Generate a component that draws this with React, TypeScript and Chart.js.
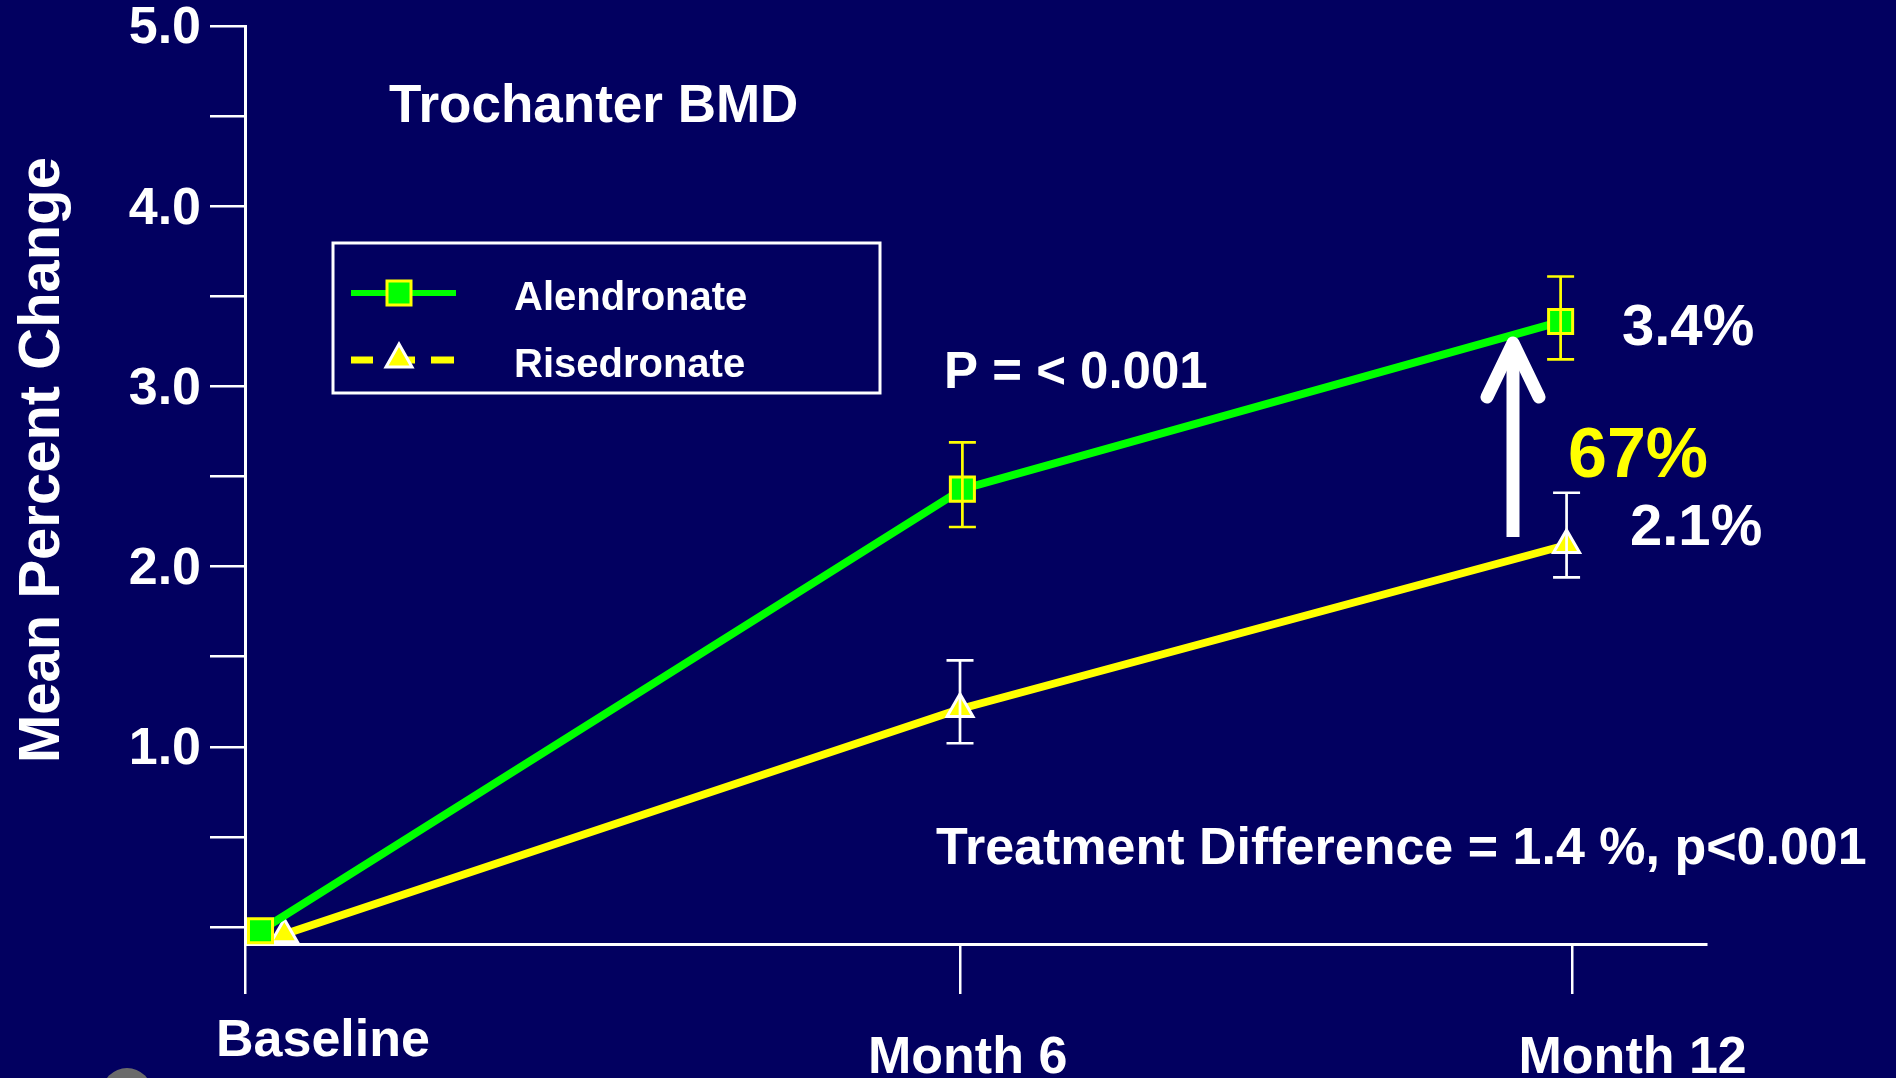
import React, { useEffect, useRef } from 'react';
import { Chart, registerables } from 'chart.js';

Chart.register(...registerables);

const FONT = "'Liberation Sans', Arial, Helvetica, sans-serif";
const BG = '#020060';
const GREEN = '#00FF00';
const YELLOW = '#FFFF00';
const WHITE = '#FFFFFF';
const W = 1896;
const H = 1078;

// X axis: tick positions (axis units) and their labels
const xTickLabels = ['Baseline', 'Month 6', 'Month 12'];
const xTickValues = [0, 6, 11.14];
const xMin = 0;
const xMax = 12.26;

// Y axis ticks
const yTickValues = [0, 0.5, 1, 1.5, 2, 2.5, 3, 3.5, 4, 4.5, 5];
const yTickLabels = ['', '', '1.0', '', '2.0', '', '3.0', '', '4.0', '', '5.0'];
const yMin = -0.094;
const yMax = 5;

// Series
const seriesNames = ['Alendronate', 'Risedronate'];

const alendronateX = [0.13, 6.02, 11.04];
const alendronateY = [-0.02, 2.43, 3.36];
const alendronateLow = [null, 2.22, 3.15];
const alendronateHigh = [null, 2.69, 3.61];

const risedronateX = [0.33, 6.0, 11.09];
const risedronateY = [-0.04, 1.21, 2.12];
const risedronateLow = [null, 1.02, 1.94];
const risedronateHigh = [null, 1.48, 2.41];

// Annotation texts
const titleText = 'Trochanter BMD';
const pText = 'P = < 0.001';
const diffText = 'Treatment Difference = 1.4 %, p<0.001';
const alenEndText = '3.4%';
const riseEndText = '2.1%';
const gainText = '67%';
const yTitle = 'Mean Percent Change';

function bold(size: number) {
  return `bold ${size}px ${FONT}`;
}

const bgPlugin = {
  id: 'bgFill',
  beforeDraw(chart: any) {
    const ctx = chart.ctx;
    ctx.save();
    ctx.fillStyle = BG;
    ctx.fillRect(0, 0, chart.width, chart.height);
    ctx.restore();
  },
};

const errorBarPlugin = {
  id: 'errorBars',
  afterDatasetsDraw(chart: any) {
    const ctx = chart.ctx;
    const xs = chart.scales.x;
    const ys = chart.scales.y;
    const groups = [
      { x: alendronateX, lo: alendronateLow, hi: alendronateHigh, color: YELLOW },
      { x: risedronateX, lo: risedronateLow, hi: risedronateHigh, color: WHITE },
    ];
    ctx.save();
    groups.forEach((g) => {
      ctx.strokeStyle = g.color;
      ctx.lineWidth = 2.7;
      g.x.forEach((xv, i) => {
        const lo = g.lo[i];
        const hi = g.hi[i];
        if (lo == null || hi == null) return;
        const px = xs.getPixelForValue(xv);
        const py1 = ys.getPixelForValue(hi);
        const py2 = ys.getPixelForValue(lo);
        ctx.beginPath();
        ctx.moveTo(px, py1);
        ctx.lineTo(px, py2);
        ctx.moveTo(px - 13.5, py1);
        ctx.lineTo(px + 13.5, py1);
        ctx.moveTo(px - 13.5, py2);
        ctx.lineTo(px + 13.5, py2);
        ctx.stroke();
      });
    });
    ctx.restore();
  },
};

const overlayPlugin = {
  id: 'overlay',
  afterDraw(chart: any) {
    const ctx = chart.ctx;
    const xs = chart.scales.x;
    const ys = chart.scales.y;
    ctx.save();

    // y tick labels
    ctx.fillStyle = WHITE;
    ctx.font = bold(52);
    ctx.textAlign = 'right';
    ctx.textBaseline = 'middle';
    yTickValues.forEach((v, i) => {
      const lab = yTickLabels[i];
      if (!lab) return;
      ctx.fillText(lab, 201, ys.getPixelForValue(v) + 3);
    });

    // x tick labels (offset as in the slide)
    ctx.textAlign = 'left';
    ctx.textBaseline = 'alphabetic';
    const xLabelOffsets = [-29, -92, -54];
    const xLabelBase = [1056, 1073, 1073];
    xTickValues.forEach((v, i) => {
      ctx.fillText(xTickLabels[i], xs.getPixelForValue(v) + xLabelOffsets[i], xLabelBase[i]);
    });

    // y axis title
    ctx.save();
    ctx.translate(59, 460);
    ctx.rotate(-Math.PI / 2);
    ctx.font = bold(58);
    ctx.textAlign = 'center';
    ctx.textBaseline = 'alphabetic';
    ctx.fillText(yTitle, 0, 0);
    ctx.restore();

    // texts
    ctx.textAlign = 'left';
    ctx.textBaseline = 'alphabetic';
    ctx.font = bold(53);
    ctx.fillText(titleText, 389, 122);
    ctx.font = bold(51);
    ctx.fillText(pText, 944, 388);
    ctx.font = bold(52);
    ctx.fillText(diffText, 936, 864);
    ctx.font = bold(58);
    ctx.fillText(alenEndText, 1622, 345);
    ctx.fillText(riseEndText, 1630, 545);
    ctx.fillStyle = YELLOW;
    ctx.font = bold(70);
    ctx.fillText(gainText, 1568, 477);

    // arrow
    ctx.strokeStyle = WHITE;
    ctx.lineWidth = 13;
    ctx.lineCap = 'butt';
    ctx.beginPath();
    ctx.moveTo(1513, 537);
    ctx.lineTo(1513, 352);
    ctx.stroke();
    ctx.lineCap = 'round';
    ctx.lineJoin = 'round';
    ctx.beginPath();
    ctx.moveTo(1487, 397);
    ctx.lineTo(1513, 343);
    ctx.lineTo(1539, 397);
    ctx.stroke();

    // legend
    ctx.lineCap = 'butt';
    ctx.lineJoin = 'miter';
    ctx.strokeStyle = WHITE;
    ctx.lineWidth = 3;
    ctx.strokeRect(333, 243, 547, 150);
    // Alendronate sample
    ctx.strokeStyle = GREEN;
    ctx.lineWidth = 6;
    ctx.beginPath();
    ctx.moveTo(351, 293);
    ctx.lineTo(456, 293);
    ctx.stroke();
    ctx.fillStyle = GREEN;
    ctx.fillRect(387, 281, 24, 24);
    ctx.strokeStyle = YELLOW;
    ctx.lineWidth = 3;
    ctx.strokeRect(387, 281, 24, 24);
    // Risedronate sample
    ctx.strokeStyle = YELLOW;
    ctx.lineWidth = 7;
    ctx.beginPath();
    ctx.moveTo(351, 360);
    ctx.lineTo(373, 360);
    ctx.moveTo(396, 360);
    ctx.lineTo(415, 360);
    ctx.moveTo(431, 360);
    ctx.lineTo(454, 360);
    ctx.stroke();
    ctx.fillStyle = YELLOW;
    ctx.strokeStyle = WHITE;
    ctx.lineWidth = 3;
    ctx.beginPath();
    ctx.moveTo(399, 344);
    ctx.lineTo(412, 367);
    ctx.lineTo(386, 367);
    ctx.closePath();
    ctx.fill();
    ctx.stroke();
    ctx.fillStyle = WHITE;
    ctx.font = bold(40);
    ctx.fillText(seriesNames[0], 514, 310);
    ctx.fillText(seriesNames[1], 514, 377);

    // grey round button remnant at bottom-left
    ctx.fillStyle = '#6b6b6b';
    ctx.beginPath();
    ctx.arc(127, 1093, 25, 0, Math.PI * 2);
    ctx.fill();

    ctx.restore();
  },
};

export default function App() {
  const canvasRef = useRef<HTMLCanvasElement | null>(null);

  useEffect(() => {
    document.body.style.margin = '0';
    document.body.style.overflow = 'hidden';
    document.body.style.background = BG;
    const canvas = canvasRef.current;
    if (!canvas) return;

    const chart = new Chart(canvas, {
      type: 'line',
      data: {
        datasets: [
          {
            label: seriesNames[0],
            data: alendronateX.map((x, i) => ({ x, y: alendronateY[i] })),
            borderColor: GREEN,
            backgroundColor: GREEN,
            borderWidth: 8,
            pointStyle: 'rect',
            pointRadius: 17,
            pointBackgroundColor: GREEN,
            pointBorderColor: YELLOW,
            pointBorderWidth: 3,
            clip: false,
          },
          {
            label: seriesNames[1],
            data: risedronateX.map((x, i) => ({ x, y: risedronateY[i] })),
            borderColor: YELLOW,
            backgroundColor: YELLOW,
            borderWidth: 8,
            pointStyle: 'triangle',
            pointRadius: 15,
            pointBackgroundColor: YELLOW,
            pointBorderColor: WHITE,
            pointBorderWidth: 3,
            clip: false,
          },
        ],
      },
      options: {
        animation: false,
        responsive: false,
        maintainAspectRatio: false,
        layout: { padding: { left: 0, top: 26, right: 190, bottom: 0 } },
        plugins: {
          legend: { display: false },
          tooltip: { enabled: false },
          title: { display: false },
        },
        scales: {
          x: {
            type: 'linear',
            min: xMin,
            max: xMax,
            afterBuildTicks: (s: any) => {
              s.ticks = xTickValues.map((v) => ({ value: v }));
            },
            afterFit: (s: any) => {
              s.height = 134;
            },
            ticks: { display: false },
            grid: {
              drawOnChartArea: false,
              drawTicks: true,
              tickLength: 50,
              color: WHITE,
              lineWidth: 2.5,
            },
            border: { display: true, color: WHITE, width: 3 },
          },
          y: {
            type: 'linear',
            min: yMin,
            max: yMax,
            afterBuildTicks: (s: any) => {
              s.ticks = yTickValues.map((v) => ({ value: v }));
            },
            afterFit: (s: any) => {
              s.width = 245;
            },
            ticks: { display: false },
            grid: {
              drawOnChartArea: false,
              drawTicks: true,
              tickLength: 35,
              color: WHITE,
              lineWidth: 2.5,
            },
            border: { display: true, color: WHITE, width: 3 },
          },
        },
      },
      plugins: [bgPlugin, errorBarPlugin, overlayPlugin],
    } as any);

    return () => {
      chart.destroy();
    };
  }, []);

  return (
    <div style={{ width: W, height: H, position: 'relative' }}>
      <canvas ref={canvasRef} width={W} height={H} style={{ display: 'block' }} />
    </div>
  );
}
